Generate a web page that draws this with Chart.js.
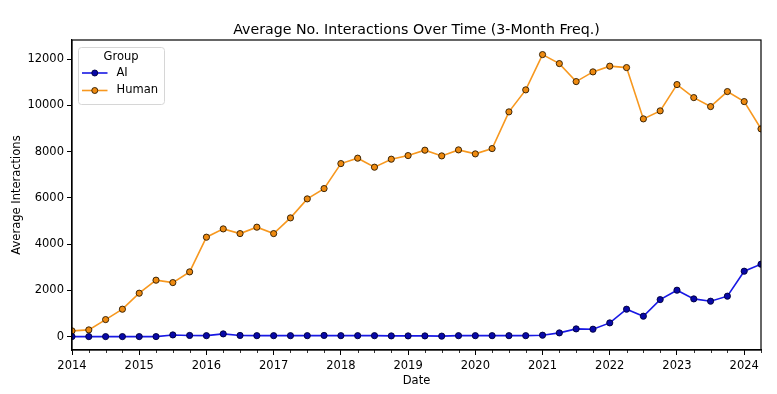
<!DOCTYPE html>
<html><head><meta charset="utf-8">
<script src="https://cdn.jsdelivr.net/npm/chart.js@4"></script>
<style>html,body{margin:0;padding:0;background:#fff}#wrap{width:777px;height:394px}</style>
</head><body><div id="wrap"><canvas id="c" width="777" height="394"></canvas></div>
<script>
const dates = ['2014-01','2014-04','2014-07','2014-10','2015-01','2015-04','2015-07','2015-10',
  '2016-01','2016-04','2016-07','2016-10','2017-01','2017-04','2017-07','2017-10',
  '2018-01','2018-04','2018-07','2018-10','2019-01','2019-04','2019-07','2019-10',
  '2020-01','2020-04','2020-07','2020-10','2021-01','2021-04','2021-07','2021-10',
  '2022-01','2022-04','2022-07','2022-10','2023-01','2023-04','2023-07','2023-10',
  '2024-01','2024-04'];
const aiValues = [0,0,0,0,0,0,72,50,40,117,50,40,40,40,40,50,40,40,40,30,30,30,20,40,40,40,40,40,60,160,333,320,593,1185,882,1601,2007,1631,1531,1748,2829,3132];
const humanValues = [247,290,736,1185,1877,2440,2336,2799,4300,4659,4456,4733,4456,5135,5957,6403,7484,7718,7328,7674,7830,8063,7817,8077,7904,8133,9721,10673,12199,11810,11031,11451,11698,11637,9418,9764,10902,10339,9950,10599,10166,8985];
const seriesNames = ['AI','Human'];
const legendTitle = 'Group';
const yearTicks = [2014,2015,2016,2017,2018,2019,2020,2021,2022,2023,2024];
const yTicks = [0,2000,4000,6000,8000,10000,12000];

const FONT = 'DejaVu Sans';
const FS = 11.5;
const toYear = s => { const [y,m] = s.split('-').map(Number); return y + (m-1)/12; };
const xs = dates.map(toYear);
const mk = vals => vals.map((v,i)=>({x:xs[i], y:v}));

const colors = {
  AI: {line:'#1818e4', fill:'#0808a8', edge:'#00003a'},
  Human: {line:'#f7981f', fill:'#ee8a10', edge:'#2a1800'}
};

const deco = {
  id:'deco',
  afterDraw(chart){
    const {ctx, chartArea:a} = chart;
    ctx.save();
    ctx.strokeStyle = '#000'; ctx.lineWidth = 1.2;
    ctx.strokeRect(a.left, a.top, a.right-a.left, a.bottom-a.top);
    const xsc = chart.scales.x;
    ctx.lineWidth = 0.8;
    ctx.beginPath();
    for (const v of xs) {
      if (Math.abs(v-Math.round(v))<1e-6) continue;
      const px = Math.round(xsc.getPixelForValue(v))+0.5;
      ctx.moveTo(px, a.bottom); ctx.lineTo(px, a.bottom+3);
    }
    ctx.stroke();

    // legend
    const bx = a.left + 6, by = a.top + 7, bw = 86, bh = 57;
    ctx.fillStyle = 'rgba(255,255,255,0.8)';
    ctx.strokeStyle = '#d6d6d6'; ctx.lineWidth = 1;
    ctx.beginPath();
    ctx.roundRect(bx+0.5, by+0.5, bw, bh, 3);
    ctx.fill(); ctx.stroke();
    ctx.font = FS + 'px "' + FONT + '"';
    ctx.fillStyle = '#000';
    ctx.textBaseline = 'middle';
    ctx.textAlign = 'center';
    ctx.fillText(legendTitle, bx + bw/2, by + 10);
    ctx.textAlign = 'left';
    seriesNames.forEach((n,k)=>{
      const y = by + 26 + k*17.5;
      const c = colors[n];
      const x0 = bx + 4, x1 = bx + 29.5;
      ctx.strokeStyle = c.line; ctx.lineWidth = 1.6;
      ctx.beginPath(); ctx.moveTo(x0,y); ctx.lineTo(x1,y); ctx.stroke();
      ctx.beginPath(); ctx.arc((x0+x1)/2, y, 3.0, 0, Math.PI*2);
      ctx.fillStyle = c.fill; ctx.fill();
      ctx.strokeStyle = c.edge; ctx.lineWidth = 0.9; ctx.stroke();
      ctx.fillStyle = '#000';
      ctx.fillText(n, bx + 38.5, y);
    });
    ctx.restore();
  }
};

new Chart(document.getElementById('c'), {
  type:'line',
  data:{
    datasets: seriesNames.map((n,k)=>({
      label:n,
      data: mk(k===0?aiValues:humanValues),
      borderColor: colors[n].line,
      backgroundColor: colors[n].fill,
      pointBackgroundColor: colors[n].fill,
      pointBorderColor: colors[n].edge,
      pointBorderWidth: 0.9,
      pointRadius: 3.1,
      borderWidth: 1.6,
      tension: 0,
      clip: 0
    }))
  },
  options:{
    responsive:false, animation:false, devicePixelRatio:1,
    layout:{padding:{left:0,right:16,top:0,bottom:0}},
    plugins:{
      tooltip:{enabled:false},
      legend:{display:false},
      title:{display:true, fullSize:false, text:'Average No. Interactions Over Time (3-Month Freq.)',
        color:'#000', font:{family:FONT,size:14.2,weight:'normal'}, padding:{top:22,bottom:0.96}}
    },
    scales:{
      x:{
        type:'linear', min:xs[0], max:xs[xs.length-1],
        afterBuildTicks:s=>{ s.ticks = yearTicks.map(v=>({value:v})); },
        afterFit:s=>{ s.height = 44; },
        ticks:{color:'#000', font:{family:FONT,size:FS}, autoSkip:false, maxRotation:0, padding:4, callback:v=>String(v)},
        grid:{display:true, drawOnChartArea:false, drawTicks:true, tickLength:5, tickColor:'#000', tickWidth:1},
        border:{display:true, color:'#000', width:1.2},
        title:{display:true, text:'Date', color:'#000', font:{family:FONT,size:FS}, padding:{top:2,bottom:6}}
      },
      y:{
        type:'linear', min:-580, max:12830,
        afterBuildTicks:s=>{ s.ticks = yTicks.map(v=>({value:v})); },
        afterFit:s=>{ s.width = 72; },
        ticks:{color:'#000', font:{family:FONT,size:FS}, padding:3, callback:v=>String(v)},
        grid:{display:true, drawOnChartArea:false, drawTicks:true, tickLength:5, tickColor:'#000', tickWidth:1},
        border:{display:true, color:'#000', width:1.2},
        title:{display:true, text:'Average Interactions', color:'#000', font:{family:FONT,size:FS}, padding:{top:10,bottom:4}}
      }
    }
  },
  plugins:[deco]
});
</script></body></html>
